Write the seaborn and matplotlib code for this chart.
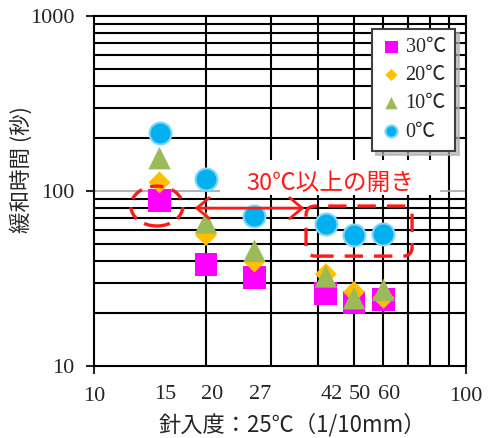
import numpy as np
import pandas as pd
import matplotlib
matplotlib.use("Agg")
import matplotlib.pyplot as plt
import seaborn as sns
from matplotlib.patches import Ellipse, FancyBboxPatch, FancyArrowPatch, Rectangle
from matplotlib.transforms import ScaledTranslation
from matplotlib.ticker import FixedLocator, FixedFormatter, NullLocator

# ---- data ----
penetration = [15, 20, 27, 42, 50, 60]
t30 = [88, 38, 32, 26, 23, 24]
t20 = [112, 56, 39.5, 33.5, 26.5, 24.5]
t10 = [154, 66, 45.5, 32.5, 24.4, 27.2]
t0 = [214, 117, 72, 64.5, 56, 57]
series_labels = ["30℃", "20℃", "10℃", "0℃"]
x_major_ticks = [10, 100]
x_label_ticks = [15, 20, 27, 42, 50, 60]
y_ticks = [10, 100, 1000]
annotation_text = "30℃以上の開き"
xlabel_text = "針入度：25℃（1/10mm）"
ylabel_text = "緩和時間 (秒)"

sns.set_style("white")
plt.rcParams['font.family'] = ['Liberation Serif', 'Noto Sans CJK JP', 'DejaVu Sans']
CJK = ['Noto Sans CJK JP', 'DejaVu Sans']

fig = plt.figure(figsize=(4.93, 4.38), dpi=100)
ax = fig.add_axes([94/493, 72/438, 372/493, 350/438])
ax.set_xscale('log')
ax.set_yscale('log')
ax.set_xlim(10, 100)
ax.set_ylim(10, 1000)

# grid
grid_x = [20, 30, 40, 50, 60, 70, 80, 90]
grid_y = [20, 30, 40, 50, 60, 70, 80, 90, 200, 300, 400, 500, 600, 700, 800, 900]
for g in grid_x:
    ax.axvline(g, color='black', lw=1.5, zorder=1)
for g in grid_y:
    ax.axhline(g, color='black', lw=1.5, zorder=1)
ax.axhline(100, color='#a6a6a6', lw=1.2, zorder=1)

styles = [
    (t30, 's', '#ff00ff', 'none', 270),
    (t20, 'D', '#ffc000', 'none', 125),
    (t10, '^', '#9bbb59', 'none', 260),
    (t0, 'o', '#00b0f0', '#80d8f8', 250),
]
for (vals, m, c, ec, s), lab in zip(styles, series_labels):
    sns.scatterplot(x=penetration, y=vals, marker=m, color=c, s=s,
                    edgecolor=ec, linewidth=1.5 if ec != 'none' else 0,
                    label=lab, ax=ax, zorder=5)

for sp in ax.spines.values():
    sp.set_color('black')
    sp.set_linewidth(1.5)

# ticks
ax.xaxis.set_major_locator(FixedLocator(x_major_ticks))
ax.xaxis.set_major_formatter(FixedFormatter([str(v) for v in x_major_ticks]))
ax.xaxis.set_minor_locator(FixedLocator(x_label_ticks))
ax.xaxis.set_minor_formatter(FixedFormatter([str(v) for v in x_label_ticks]))
ax.yaxis.set_major_locator(FixedLocator(y_ticks))
ax.yaxis.set_major_formatter(FixedFormatter([str(v) for v in y_ticks]))
ax.yaxis.set_minor_locator(NullLocator())
ax.tick_params(axis='x', which='major', direction='out', length=6, width=1.5,
               labelsize=16, pad=9, bottom=True)
ax.tick_params(axis='x', which='minor', direction='out', length=0,
               labelsize=16, pad=13.5, bottom=True)
ax.tick_params(axis='y', which='major', direction='out', length=6, width=1.5,
               labelsize=16, pad=8, left=True)
for lbl in ax.get_xticklabels(minor=True):
    lbl.set_transform(lbl.get_transform() + ScaledTranslation(6/100, 0, fig.dpi_scale_trans))

ax.set_xlabel(xlabel_text, fontsize=16, family=CJK)
ax.set_ylabel(ylabel_text, fontsize=15.5, family=CJK)
ax.xaxis.set_label_coords(0.532, -0.135)
ax.yaxis.set_label_coords(-0.165, 0.56)

# annotations
red = '#ff1a1a'
ax.add_patch(Rectangle((0.339, 0.489), 0.591, 0.1, transform=ax.transAxes,
                       facecolor='white', edgecolor='none', zorder=2))
ax.text(0.636, 0.523, annotation_text, transform=ax.transAxes, ha='center', va='center',
        color=red, fontsize=17, family=CJK, zorder=3)
ax.add_patch(Ellipse((0.169, 0.457), 0.14, 0.114, transform=ax.transAxes, fill=False,
                     edgecolor=red, lw=2.4, linestyle=(0, (4, 2.6)), zorder=6))
ax.add_patch(FancyArrowPatch((0.263, 0.451), (0.573, 0.451), transform=ax.transAxes,
                             arrowstyle='<->,head_length=0.6,head_width=0.5',
                             mutation_scale=15, color=red, lw=2, zorder=6))
ax.add_patch(FancyBboxPatch((0.570, 0.314), 0.285, 0.143,
                            boxstyle='round,pad=0,rounding_size=0.025',
                            transform=ax.transAxes, fill=False, edgecolor=red,
                            lw=2.4, linestyle=(0, (5.5, 3.3)), zorder=6))

leg = ax.legend(loc='upper right', bbox_to_anchor=(0.97, 0.963), markerscale=0.55,
                fontsize=14.5, frameon=True, fancybox=False,
                shadow={'color': '#b0b0b0', 'alpha': 0.7, 'ox': 3, 'oy': -3},
                edgecolor='#404040', framealpha=1, handletextpad=0.2,
                labelspacing=0.45, borderpad=0.45, handlelength=1.0,
                borderaxespad=0)
leg.get_frame().set_linewidth(1.5)
leg.set_zorder(10)

fig.savefig('out.png', dpi=100)
